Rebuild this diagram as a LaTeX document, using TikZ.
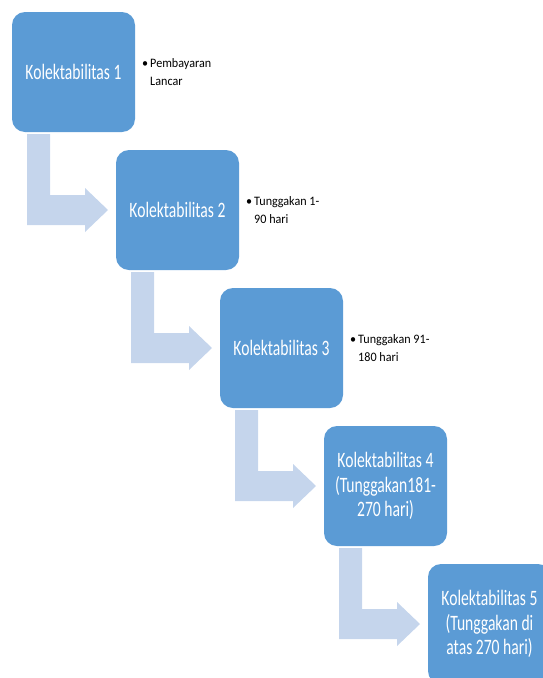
\documentclass[tikz,border=0pt]{standalone}
\usepackage{fontspec}
\setmainfont{Carlito}
\newfontfamily\boxfont[FakeStretch=0.71]{Carlito}
\newfontfamily\notefont[FakeStretch=0.94]{Carlito}
\usepackage{xcolor}
\definecolor{kolBlue}{RGB}{91, 155, 213}
\definecolor{arrowBlue}{RGB}{197, 213, 236}
\usetikzlibrary{positioning,calc}

\tikzset{
  kolbox/.style={fill=kolBlue, rounded corners=13pt, minimum width=123pt, minimum height=120pt,
    inner sep=2pt, outer sep=0pt, text=white, align=center,
    font=\boxfont\fontsize{22}{24.5}\selectfont},
  note/.style={align=left, inner sep=0pt, font=\notefont\fontsize{12.9}{18}\selectfont},
  bentarrow/.style={fill=arrowBlue},
}
\newcommand{\bul}{\textbullet\hspace{2pt}}

\begin{document}
\begin{tikzpicture}[x=1pt, y=-1pt]
\useasboundingbox (0,0) rectangle (543,678);

% steps
\node[kolbox] (k1) at (73.5,72) {Kolektabilitas 1};
\node[kolbox, below right=18pt and -19pt of k1] (k2) {Kolektabilitas 2};
\node[kolbox, below right=18pt and -19pt of k2] (k3) {Kolektabilitas 3};
\node[kolbox, below right=18pt and -19pt of k3] (k4) {Kolektabilitas 4\\(Tunggakan181-\\270 hari)};
\node[kolbox, below right=18pt and -19pt of k4] (k5) {Kolektabilitas 5\\(Tunggakan di\\atas 270 hari)};

% notes
\node[note, right=7pt of k1] (n1) {\bul Pembayaran\\\phantom{\bul}Lancar};
\node[note, right=7pt of k2] (n2) {\bul Tunggakan 1-\\\phantom{\bul}90 hari};
\node[note, right=7pt of k3] (n3) {\bul Tunggakan 91-\\\phantom{\bul}180 hari};

% bent arrows
\foreach \a/\b in {k1/k2,k2/k3,k3/k4,k4/k5}
  \fill[bentarrow] ($(\a.south west)+(15,2)$) coordinate (s) -- ++(23,0)
    |- ($(\b.west)+(-31,-15)$) -- ++(0,-7) -- ($(\b.west)+(-8,0)$)
    -- ($(\b.west)+(-31,22)$) -- ++(0,-7) -| (s) -- cycle;
\end{tikzpicture}
\end{document}
